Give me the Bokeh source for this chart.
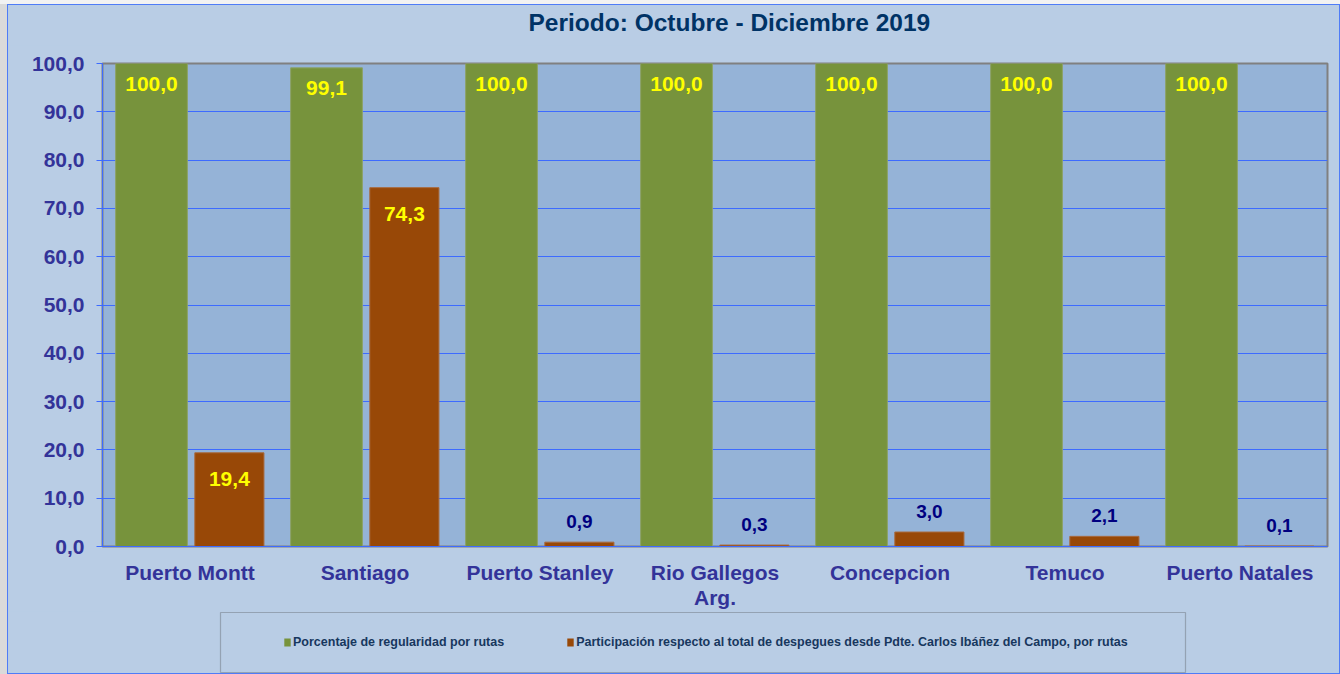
from bokeh.plotting import figure
from bokeh.layouts import column
from bokeh.models import (FactorRange, Range1d, ColumnDataSource, Legend, LegendItem,
                          FixedTicker, BoxAnnotation, Label)
from bokeh.transform import dodge
from bokeh.core.properties import value
from bokeh.embed import file_html
from bokeh.resources import INLINE

# ---- data ----
cities = ["Puerto Montt", "Santiago", "Puerto Stanley", "Rio Gallegos\nArg.",
          "Concepcion", "Temuco", "Puerto Natales"]
regularidad = [100.0, 99.1, 100.0, 100.0, 100.0, 100.0, 100.0]
participacion = [19.4, 74.3, 0.9, 0.3, 3.0, 2.1, 0.1]
y_ticks = [0, 10, 20, 30, 40, 50, 60, 70, 80, 90, 100]
title_text = "Periodo: Octubre - Diciembre  2019"
series_names = ["Porcentaje de regularidad por rutas",
                "Participación respecto al total de despegues desde Pdte. Carlos Ibáñez del Campo, por rutas"]


def fmt(v):
    return f"{v:.1f}".replace(".", ",")


FONT = "Liberation Sans"
GREEN = "#77933C"
BROWN = "#984807"
AXIS_TXT = "#333399"
GRID = "#3D6BFF"
OUTER = "#B9CDE5"

W = 1331
H_TITLE = 40
H_MAIN = 566
H_LEG = 62
F_LEFT, F_RIGHT = 94, 12


def strip(height):
    f = figure(width=W, height=height, x_range=Range1d(F_LEFT, W - F_RIGHT),
               y_range=Range1d(0, height), output_backend="svg", toolbar_location=None,
               min_border_left=F_LEFT, min_border_right=F_RIGHT,
               min_border_top=0, min_border_bottom=0, title=None)
    f.axis.visible = False
    f.grid.visible = False
    f.outline_line_color = None
    f.background_fill_color = OUTER
    f.border_fill_color = OUTER
    return f


# ---- title strip ----
tfig = strip(H_TITLE)
tfig.add_layout(Label(x=520, y=23, text=title_text, text_align="left",
                      text_baseline="middle", text_font=FONT, text_font_size="24.5px",
                      text_font_style="bold", text_color="#003366"))

# ---- main chart ----
src = ColumnDataSource(dict(city=cities, reg=regularidad, par=participacion,
                            reg_txt=[fmt(v) for v in regularidad]))

inside = [i for i, v in enumerate(participacion) if v > 10]
outside = [i for i, v in enumerate(participacion) if v <= 10]
src_in = ColumnDataSource(dict(city=[cities[i] for i in inside],
                               par=[participacion[i] for i in inside],
                               txt=[fmt(participacion[i]) for i in inside]))
src_out = ColumnDataSource(dict(city=[cities[i] for i in outside],
                                par=[participacion[i] for i in outside],
                                txt=[fmt(participacion[i]) for i in outside]))

p = figure(x_range=FactorRange(factors=cities, range_padding=0),
           y_range=Range1d(0, 100), title=None,
           width=W, height=H_MAIN, output_backend="svg", toolbar_location=None,
           min_border_left=F_LEFT, min_border_right=F_RIGHT, min_border_top=18,
           min_border_bottom=60)

p.background_fill_color = "#95B3D7"
p.border_fill_color = OUTER
p.outline_line_color = "#808080"
p.outline_line_width = 2

r_green = p.vbar(x=dodge("city", -0.22, range=p.x_range), top="reg", width=0.41,
                 source=src, fill_color=GREEN, line_color="#8CA266", line_width=1)
r_brown = p.vbar(x=dodge("city", 0.225, range=p.x_range), top="par", width=0.395,
                 source=src, fill_color=BROWN, line_color="#A86A3E", line_width=1)

# value labels
p.text(x=dodge("city", -0.22, range=p.x_range), y="reg", text="reg_txt", source=src,
       y_offset=20, text_align="center", text_baseline="middle",
       text_font=value(FONT), text_font_size="21px", text_font_style="bold",
       text_color="#FFFF00")
p.text(x=dodge("city", 0.225, range=p.x_range), y="par", text="txt", source=src_in,
       y_offset=26, text_align="center", text_baseline="middle",
       text_font=value(FONT), text_font_size="21px", text_font_style="bold",
       text_color="#FFFF00")
p.text(x=dodge("city", 0.225, range=p.x_range), y="par", text="txt", source=src_out,
       y_offset=-21, text_align="center", text_baseline="middle",
       text_font=value(FONT), text_font_size="19px", text_font_style="bold",
       text_color="#000080")

# axes
p.xgrid.visible = False
p.ygrid.ticker = FixedTicker(ticks=y_ticks)
p.ygrid.grid_line_color = GRID
p.ygrid.grid_line_width = 1

p.yaxis.ticker = FixedTicker(ticks=y_ticks)
p.yaxis.major_label_overrides = {t: fmt(t) for t in y_ticks}
p.yaxis.minor_tick_line_color = None
p.yaxis.major_tick_out = 6
p.yaxis.major_tick_in = 0
p.yaxis.major_tick_line_color = GRID
p.yaxis.axis_line_color = GRID
p.yaxis.major_label_standoff = 12

p.xaxis.major_tick_out = 0
p.xaxis.major_tick_in = 0
p.xaxis.axis_line_color = GRID
p.xaxis.major_label_standoff = 14
p.xaxis.major_label_text_line_height = 1.1

for ax in (p.xaxis, p.yaxis):
    ax.major_label_text_font = FONT
    ax.major_label_text_font_size = "21px"
    ax.major_label_text_font_style = "bold"
    ax.major_label_text_color = AXIS_TXT

# ---- legend strip ----
leg = strip(H_LEG)
proxy = ColumnDataSource(dict(x=[0], top=[0]))
lg_green = leg.vbar(x="x", top="top", width=1, source=proxy, fill_color=GREEN, line_color=None)
lg_brown = leg.vbar(x="x", top="top", width=1, source=proxy, fill_color=BROWN, line_color=None)

leg.add_layout(BoxAnnotation(left=212, right=1177, bottom=1, top=61,
                             fill_alpha=0, line_color="#404040", line_width=1.2))

legend = Legend(items=[LegendItem(label=series_names[0], renderers=[lg_green]),
                       LegendItem(label=series_names[1], renderers=[lg_brown])],
                orientation="horizontal", location=(275 - F_LEFT, 24),
                glyph_width=8, glyph_height=10, label_standoff=2, spacing=62,
                padding=0, margin=0, label_height=14,
                label_text_font=FONT, label_text_font_size="12.5px",
                label_text_font_style="bold", label_text_color="#17375E",
                border_line_color=None, background_fill_alpha=0)
leg.add_layout(legend)

inner = column(tfig, p, leg, spacing=0, margin=(4, 0, 0, 7),
               styles={"border": "1px solid #4F7CF7", "background-color": OUTER})
layout = column(inner, spacing=0,
                styles={"background": "linear-gradient(to bottom, #F2F2F2 4px, #DADADA 4px)"})

open("out.html", "w").write(file_html(layout, INLINE))
